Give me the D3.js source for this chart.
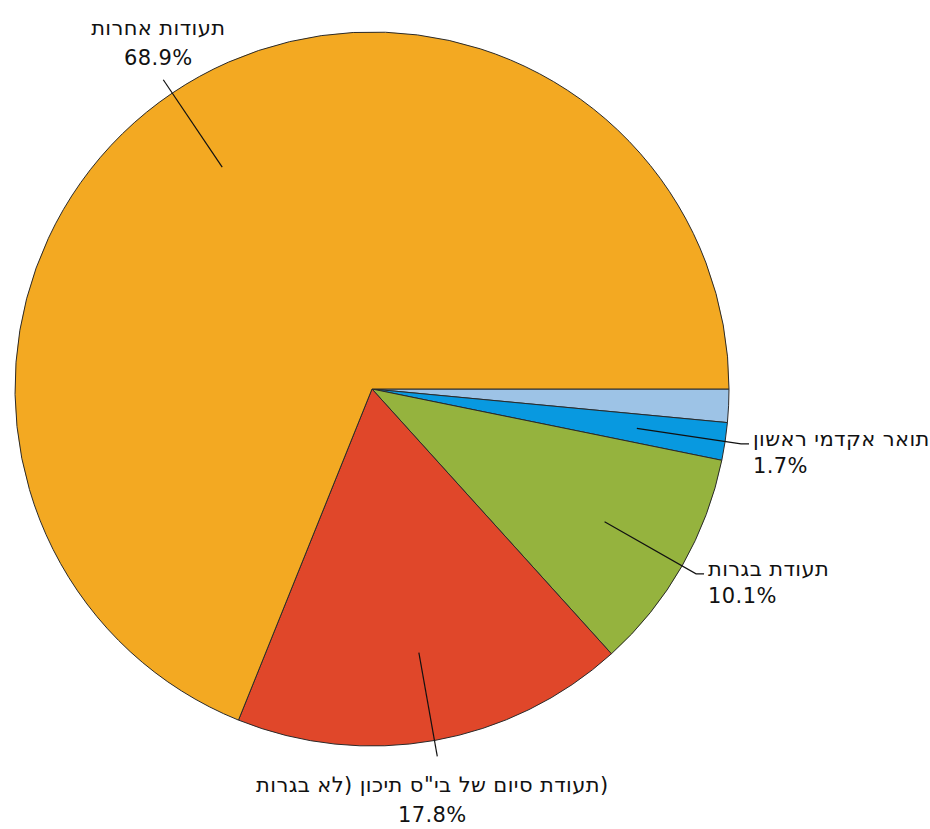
<!DOCTYPE html>
<html>
<head>
<meta charset="utf-8">
<script src="https://cdn.jsdelivr.net/npm/d3@7"></script>
<style>
  body { margin: 0; background: #fff; }
  svg text { font-family: "DejaVu Sans", Verdana, sans-serif; font-size: 21px; letter-spacing: 0.4px; fill: #111; }
</style>
</head>
<body>
<svg id="chart" width="930" height="829"></svg>
<script>
// slices clockwise from 3 o'clock
const categories = ["", "תואר אקדמי ראשון", "תעודת בגרות", "תעודת סיום של בי\"ס תיכון (לא בגרות)", "תעודות אחרות"];
const values = [1.5, 1.7, 10.1, 17.8, 68.9];
const colors = ["#9DC3E6", "#0899E0", "#95B33E", "#E0472A", "#F3A922"];

const svg = d3.select("#chart");
const cx = 372, cy = 389, radius = 357;

const data = categories.map((c, i) => ({name: c, value: values[i], color: colors[i]}));

// d3 pie angles start at 12 o'clock, shift by 90deg so first slice starts at 3 o'clock
const pie = d3.pie().sort(null).value(d => d.value)
  .startAngle(Math.PI / 2).endAngle(Math.PI / 2 + 2 * Math.PI);
const arc = d3.arc().innerRadius(0).outerRadius(radius);
const arcs = pie(data);

const g = svg.append("g").attr("transform", `translate(${cx},${cy})`);

g.selectAll("path.slice").data(arcs).join("path")
  .attr("class", "slice")
  .attr("d", arc)
  .attr("fill", d => d.data.color)
  .attr("stroke", "#2a2a2a")
  .attr("stroke-width", 1);

function pointAt(d, r) {
  const a = (d.startAngle + d.endAngle) / 2;
  return [Math.sin(a) * r, -Math.cos(a) * r];
}

// the original export lays the line out left-to-right, so a trailing ")"
// ends up at the far right; draw it as its own piece to keep that look
function nameLine(x, y, name, anchor) {
  let main = name, tail = "";
  if (name.endsWith(")")) { main = name.slice(0, -1); tail = ")"; }
  const t1 = g.append("text").attr("y", y).text(main);
  const t2 = g.append("text").attr("y", y).text(tail);
  const w1 = t1.node().getComputedTextLength();
  const w2 = tail ? t2.node().getComputedTextLength() : 0;
  const x0 = anchor === "middle" ? x - (w1 + w2) / 2 : x;
  t1.attr("x", x0);
  t2.attr("x", x0 + w1);
}

const labelled = arcs.filter(d => d.data.name !== "");

labelled.forEach(d => {
  const p1 = pointAt(d, radius * 0.75);
  const p2 = pointAt(d, radius * 1.045);
  const pts = [p1, p2];
  const a = (d.startAngle + d.endAngle) / 2;
  const vertical = Math.abs(Math.cos(a)) > 0.8;
  if (!vertical) pts.push([p2[0] + 8, p2[1]]);
  g.append("path")
    .attr("d", d3.line()(pts))
    .attr("fill", "none")
    .attr("stroke", "#111")
    .attr("stroke-width", 1.2);

  const pct = d3.format(".1f")(d.data.value) + "%";
  if (vertical) {
    const up = Math.cos(a) > 0; // top of the pie
    const x = p2[0] - 5;
    const y0 = up ? p2[1] - 45 : p2[1] + 36;
    nameLine(x, y0, d.data.name, "middle");
    g.append("text").attr("x", x).attr("y", y0 + 30)
      .attr("text-anchor", "middle").text(pct);
  } else {
    const x = p2[0] + 12;
    const y0 = p2[1] + 2;
    nameLine(x, y0, d.data.name, "start");
    g.append("text").attr("x", x).attr("y", y0 + 27).text(pct);
  }
});
</script>
</body>
</html>
